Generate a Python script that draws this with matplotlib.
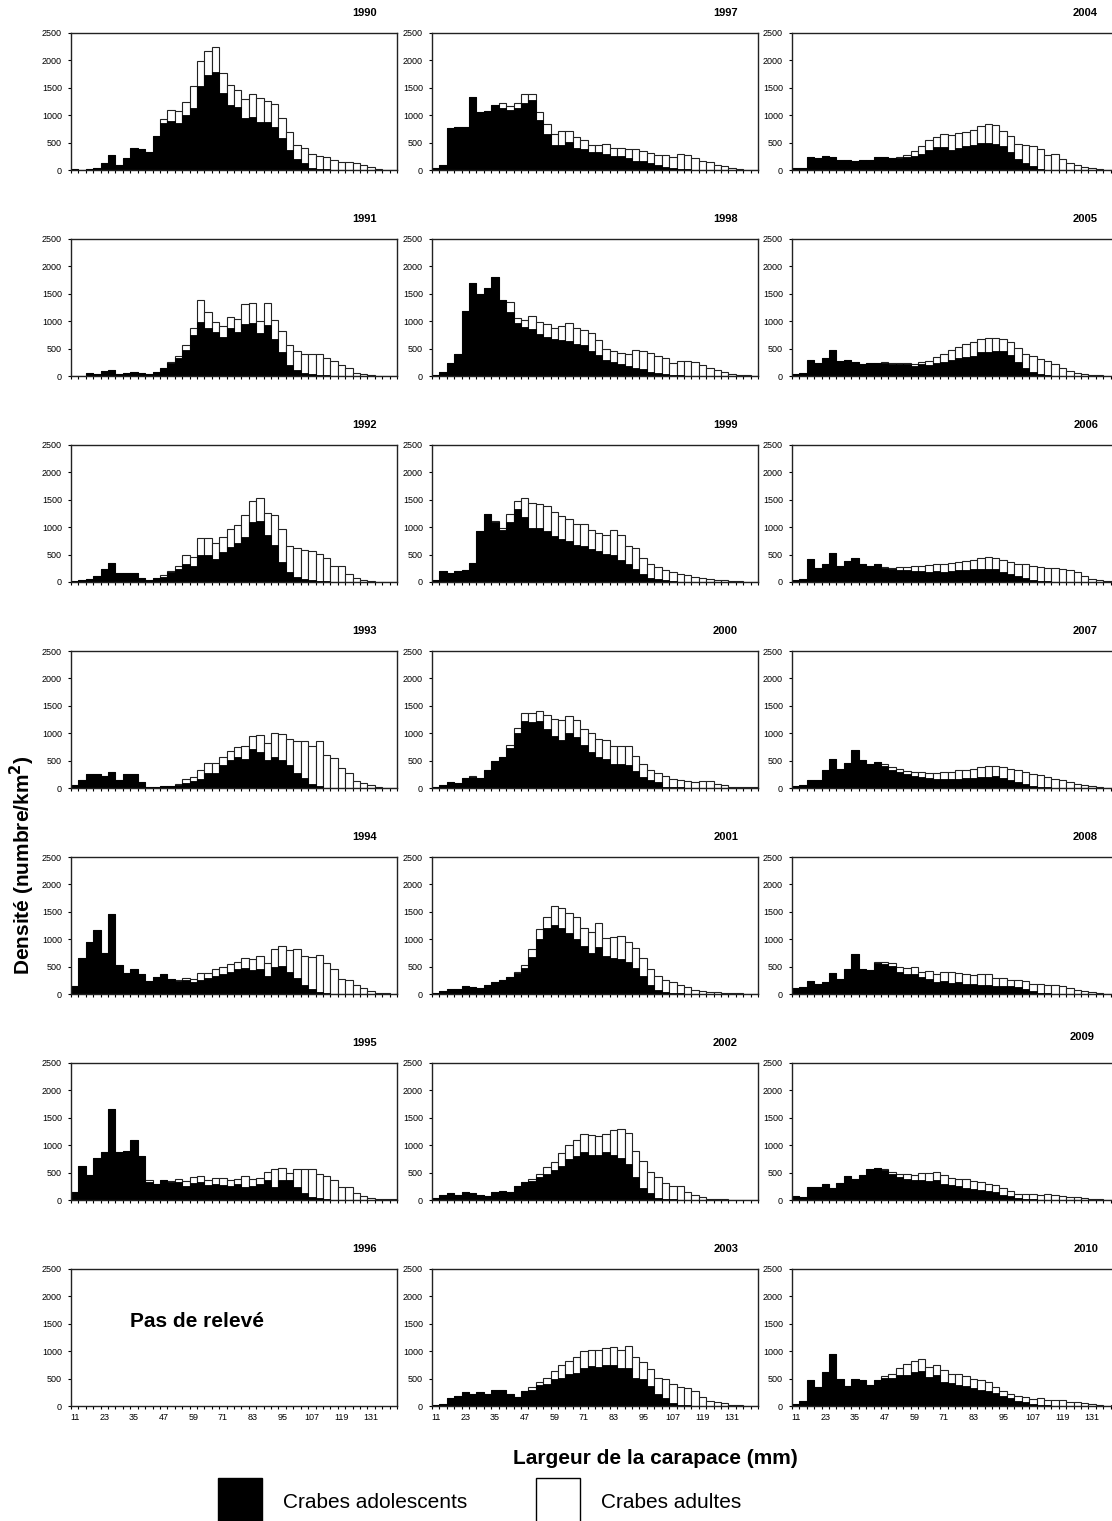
import matplotlib
matplotlib.use("Agg")
import matplotlib.pyplot as plt
import numpy as np
from matplotlib.patches import Rectangle

plt.rcParams["font.family"] = ["Liberation Sans", "DejaVu Sans"]

# carapace width classes (mm), 3 mm bins
WIDTHS = list(range(11, 143, 3))
TICK_LABELS = ["11", "23", "35", "47", "59", "71", "83", "95", "107", "119", "131"]

# density (number/km2): adolescents (black) and total height of stacked bar
ADO_1990 = [15, 0, 25, 40, 130, 270, 90, 220, 410, 380, 320, 620, 850, 900, 860, 1010, 1140, 1540, 1730, 1790, 1400, 1180, 1150, 940, 970, 870, 870, 790, 590, 360, 200, 130, 30, 20, 10, 5, 0, 0, 0, 0, 0, 0, 0, 0]
TOT_1990 = [15, 0, 25, 40, 130, 270, 90, 220, 410, 380, 330, 620, 930, 1090, 1080, 1250, 1540, 1980, 2170, 2240, 1770, 1550, 1460, 1300, 1380, 1310, 1260, 1210, 950, 690, 450, 410, 290, 260, 230, 190, 140, 150, 130, 90, 50, 10, 5, 0]

ADO_1991 = [0, 0, 60, 40, 100, 110, 40, 50, 80, 50, 40, 70, 150, 230, 330, 480, 740, 980, 880, 800, 720, 870, 810, 940, 970, 790, 930, 670, 440, 200, 110, 60, 30, 20, 10, 0, 0, 0, 0, 0, 0, 0, 0, 0]
TOT_1991 = [0, 0, 60, 40, 100, 110, 40, 50, 80, 50, 40, 70, 150, 250, 370, 560, 870, 1380, 1170, 990, 920, 1080, 1040, 1320, 1340, 1000, 1340, 1030, 830, 570, 460, 410, 400, 400, 330, 270, 200, 140, 60, 30, 10, 0, 0, 0]

ADO_1992 = [20, 30, 50, 110, 240, 340, 160, 170, 170, 80, 40, 70, 100, 180, 230, 330, 290, 490, 500, 420, 550, 640, 710, 830, 1100, 1120, 850, 680, 370, 190, 100, 60, 30, 20, 10, 0, 0, 0, 0, 0, 0, 0, 0, 0]
TOT_1992 = [20, 30, 50, 110, 240, 340, 160, 170, 170, 80, 40, 70, 120, 200, 300, 490, 460, 800, 810, 720, 830, 960, 1040, 1230, 1480, 1540, 1260, 1220, 960, 660, 620, 590, 560, 510, 440, 300, 300, 150, 80, 30, 10, 0, 0, 0]

ADO_1993 = [50, 150, 260, 250, 220, 290, 140, 260, 260, 110, 10, 10, 30, 30, 50, 90, 120, 170, 270, 280, 420, 510, 560, 530, 720, 660, 510, 570, 520, 420, 280, 190, 70, 30, 0, 0, 0, 0, 0, 0, 0, 0, 0, 0]
TOT_1993 = [50, 150, 260, 250, 220, 290, 140, 260, 260, 110, 10, 10, 30, 40, 80, 170, 200, 330, 450, 460, 560, 680, 740, 770, 950, 970, 830, 1000, 990, 900, 860, 860, 770, 850, 610, 540, 360, 270, 130, 90, 60, 10, 0, 0]

ADO_1994 = [150, 650, 950, 1170, 750, 1460, 530, 380, 460, 360, 230, 310, 360, 270, 240, 250, 210, 260, 290, 320, 370, 410, 450, 470, 440, 450, 320, 490, 510, 410, 300, 170, 100, 30, 10, 0, 0, 0, 0, 0, 0, 0, 0, 0]
TOT_1994 = [150, 650, 950, 1170, 750, 1460, 530, 380, 460, 360, 230, 310, 370, 270, 260, 300, 280, 380, 390, 460, 490, 550, 590, 650, 640, 690, 560, 830, 870, 800, 830, 690, 680, 720, 570, 450, 270, 260, 160, 110, 60, 20, 10, 0]

ADO_1995 = [140, 620, 450, 770, 880, 1660, 870, 890, 1100, 800, 330, 290, 370, 320, 330, 260, 310, 330, 280, 290, 270, 250, 300, 240, 260, 300, 370, 230, 370, 370, 230, 120, 60, 30, 10, 0, 0, 0, 0, 0, 0, 0, 0, 0]
TOT_1995 = [140, 620, 450, 770, 880, 1660, 870, 890, 1100, 800, 370, 290, 370, 340, 380, 340, 420, 430, 360, 410, 400, 360, 390, 430, 380, 410, 510, 560, 580, 500, 560, 570, 560, 480, 440, 360, 230, 230, 130, 80, 30, 10, 10, 10]

ADO_1997 = [30, 100, 770, 780, 790, 1340, 1050, 1070, 1180, 1140, 1090, 1130, 1220, 1270, 910, 660, 460, 460, 510, 400, 390, 320, 320, 300, 250, 250, 220, 170, 170, 120, 100, 50, 30, 20, 10, 0, 0, 0, 0, 0, 0, 0, 0, 0]
TOT_1997 = [30, 100, 770, 780, 790, 1340, 1050, 1070, 1190, 1220, 1170, 1230, 1380, 1390, 1050, 840, 650, 710, 720, 600, 540, 450, 450, 470, 400, 410, 390, 390, 340, 310, 280, 270, 240, 290, 280, 210, 170, 150, 100, 70, 30, 10, 0, 0]

ADO_1998 = [20, 80, 240, 400, 1180, 1700, 1500, 1610, 1810, 1390, 1170, 960, 900, 850, 760, 720, 670, 660, 640, 590, 560, 460, 380, 300, 250, 220, 180, 150, 120, 80, 50, 30, 10, 10, 0, 0, 0, 0, 0, 0, 0, 0, 0, 0]
TOT_1998 = [20, 80, 240, 400, 1180, 1700, 1500, 1610, 1810, 1390, 1350, 1060, 1020, 1100, 990, 940, 880, 920, 960, 880, 840, 780, 660, 490, 460, 420, 400, 480, 450, 420, 360, 320, 230, 270, 280, 250, 200, 150, 110, 70, 40, 20, 10, 0]

ADO_1999 = [30, 200, 160, 200, 210, 340, 930, 1250, 1100, 940, 1100, 1330, 1180, 980, 980, 930, 840, 780, 740, 680, 660, 600, 570, 520, 500, 400, 320, 230, 140, 80, 50, 30, 10, 0, 0, 0, 0, 0, 0, 0, 0, 0, 0, 0]
TOT_1999 = [30, 200, 160, 200, 210, 340, 930, 1250, 1110, 980, 1240, 1480, 1540, 1440, 1420, 1380, 1280, 1200, 1150, 1060, 1060, 950, 900, 860, 940, 860, 650, 620, 440, 330, 270, 220, 180, 140, 120, 90, 70, 50, 40, 30, 20, 10, 0, 0]

ADO_2000 = [20, 60, 110, 90, 190, 200, 180, 330, 490, 570, 730, 1000, 1230, 1210, 1220, 1070, 940, 880, 1000, 930, 780, 650, 570, 530, 430, 430, 420, 310, 200, 140, 110, 20, 10, 10, 0, 0, 0, 0, 0, 0, 0, 0, 0, 0]
TOT_2000 = [20, 60, 110, 90, 190, 210, 180, 330, 490, 570, 790, 1090, 1370, 1370, 1400, 1340, 1260, 1240, 1320, 1250, 1080, 1010, 890, 870, 770, 770, 770, 590, 440, 330, 270, 210, 160, 150, 130, 110, 120, 120, 80, 50, 20, 10, 10, 10]

ADO_2001 = [20, 50, 100, 100, 140, 130, 110, 160, 210, 260, 310, 390, 480, 680, 1010, 1200, 1260, 1200, 1110, 1000, 870, 740, 850, 690, 650, 640, 580, 470, 330, 170, 80, 40, 20, 10, 0, 0, 0, 0, 0, 0, 0, 0, 0, 0]
TOT_2001 = [20, 50, 100, 100, 140, 130, 110, 160, 210, 260, 310, 400, 530, 820, 1190, 1410, 1600, 1570, 1470, 1410, 1210, 1140, 1290, 1020, 1040, 1050, 950, 840, 660, 450, 330, 260, 220, 160, 120, 80, 60, 40, 30, 20, 10, 10, 0, 0]

ADO_2002 = [30, 100, 120, 90, 140, 130, 100, 80, 150, 160, 150, 250, 320, 350, 420, 480, 550, 620, 740, 800, 880, 820, 830, 870, 830, 770, 660, 420, 220, 130, 40, 20, 10, 0, 0, 0, 0, 0, 0, 0, 0, 0, 0, 0]
TOT_2002 = [30, 100, 120, 90, 140, 130, 100, 80, 150, 160, 150, 250, 320, 380, 480, 600, 700, 850, 1010, 1090, 1200, 1180, 1170, 1200, 1270, 1290, 1230, 890, 710, 520, 420, 310, 250, 250, 150, 100, 50, 20, 10, 10, 0, 0, 0, 0]

ADO_2003 = [20, 40, 140, 190, 250, 210, 260, 210, 290, 300, 220, 170, 280, 300, 380, 410, 490, 510, 580, 610, 700, 730, 710, 740, 750, 700, 700, 520, 490, 360, 220, 140, 60, 20, 10, 0, 0, 0, 0, 0, 0, 0, 0, 0]
TOT_2003 = [20, 40, 140, 190, 250, 210, 260, 210, 290, 300, 220, 170, 280, 350, 440, 510, 640, 750, 830, 890, 1000, 1030, 1030, 1060, 1080, 1030, 1100, 900, 800, 680, 510, 500, 410, 350, 330, 280, 160, 100, 70, 50, 10, 10, 5, 5]

ADO_2004 = [30, 40, 230, 220, 250, 230, 180, 190, 160, 180, 190, 230, 230, 210, 210, 230, 250, 300, 360, 420, 420, 370, 400, 430, 450, 490, 500, 480, 430, 330, 200, 120, 70, 20, 0, 0, 0, 0, 0, 0, 0, 0, 0, 0]
TOT_2004 = [30, 40, 230, 220, 250, 230, 180, 190, 160, 180, 190, 230, 230, 210, 240, 270, 340, 430, 540, 600, 660, 630, 680, 690, 730, 800, 840, 820, 710, 620, 470, 450, 430, 390, 270, 290, 200, 120, 90, 60, 40, 10, 0, 0]

ADO_2005 = [30, 50, 300, 230, 330, 470, 280, 290, 260, 210, 230, 230, 240, 220, 210, 210, 190, 210, 200, 240, 260, 300, 330, 350, 370, 430, 440, 460, 450, 390, 260, 150, 80, 30, 10, 0, 0, 0, 0, 0, 0, 0, 0, 0]
TOT_2005 = [30, 50, 300, 230, 330, 470, 280, 290, 260, 210, 230, 240, 250, 240, 240, 240, 220, 260, 280, 340, 410, 480, 530, 590, 620, 680, 700, 700, 680, 620, 520, 410, 360, 310, 280, 220, 150, 100, 60, 40, 20, 10, 0, 0]

ADO_2006 = [30, 60, 420, 250, 330, 530, 300, 380, 430, 320, 300, 320, 260, 230, 220, 210, 200, 200, 190, 200, 190, 200, 210, 220, 230, 240, 230, 230, 180, 150, 110, 70, 40, 20, 10, 0, 0, 0, 0, 0, 0, 0, 0, 0]
TOT_2006 = [30, 60, 420, 250, 330, 530, 300, 380, 430, 320, 300, 320, 270, 260, 270, 280, 290, 300, 310, 330, 330, 340, 360, 390, 410, 440, 460, 430, 400, 360, 330, 320, 300, 280, 260, 250, 240, 220, 190, 110, 60, 30, 20, 10]

ADO_2007 = [30, 50, 140, 140, 330, 530, 340, 450, 700, 520, 440, 470, 400, 330, 290, 250, 220, 200, 180, 170, 170, 170, 160, 180, 180, 200, 200, 210, 190, 150, 110, 70, 40, 20, 10, 0, 0, 0, 0, 0, 0, 0, 0, 0]
TOT_2007 = [30, 50, 140, 140, 330, 530, 340, 450, 700, 520, 440, 480, 430, 380, 340, 310, 290, 290, 270, 270, 290, 300, 320, 330, 350, 380, 410, 410, 390, 350, 320, 290, 260, 230, 200, 170, 140, 110, 80, 50, 30, 10, 0, 0]

ADO_2008 = [110, 130, 230, 190, 220, 380, 270, 460, 730, 460, 430, 560, 550, 520, 400, 360, 370, 310, 280, 220, 230, 200, 210, 190, 180, 170, 170, 140, 150, 150, 120, 90, 50, 20, 10, 0, 0, 0, 0, 0, 0, 0, 0, 0]
TOT_2008 = [110, 130, 230, 190, 220, 380, 270, 460, 730, 460, 430, 580, 580, 570, 490, 470, 490, 400, 420, 360, 410, 400, 390, 360, 350, 360, 360, 290, 300, 260, 250, 230, 190, 180, 170, 160, 150, 110, 70, 60, 30, 10, 0, 0]

ADO_2009 = [80, 60, 240, 240, 290, 220, 310, 440, 380, 450, 570, 590, 540, 480, 420, 380, 370, 370, 340, 360, 300, 270, 260, 220, 200, 180, 170, 150, 100, 70, 30, 20, 10, 0, 0, 0, 0, 0, 0, 0, 0, 0, 0, 0]
TOT_2009 = [80, 60, 240, 240, 290, 220, 310, 440, 380, 450, 570, 590, 560, 520, 480, 480, 460, 490, 490, 520, 460, 400, 390, 380, 340, 330, 300, 270, 210, 160, 110, 110, 110, 100, 110, 100, 70, 60, 50, 30, 20, 10, 0, 0]

ADO_2010 = [40, 100, 470, 350, 620, 950, 490, 360, 490, 470, 390, 470, 520, 510, 570, 570, 620, 630, 530, 570, 440, 420, 390, 370, 320, 300, 280, 230, 190, 140, 100, 70, 30, 20, 10, 0, 0, 0, 0, 0, 0, 0, 0, 0]
TOT_2010 = [40, 100, 470, 350, 620, 950, 490, 360, 490, 470, 390, 470, 550, 590, 690, 760, 830, 850, 710, 740, 650, 580, 580, 550, 500, 470, 440, 350, 280, 220, 190, 160, 130, 150, 110, 110, 110, 70, 70, 60, 40, 20, 0, 10]

PANELS = [
    ["1990", "1991", "1992", "1993", "1994", "1995", "1996"],
    ["1997", "1998", "1999", "2000", "2001", "2002", "2003"],
    ["2004", "2005", "2006", "2007", "2008", "2009", "2010"],
]
SERIES = {name[4:]: (globals()["ADO_" + name[4:]], val)
          for name, val in list(globals().items()) if name.startswith("TOT_")}

W, H = 1112, 1521
COL_LEFT = [71, 432, 792]
AX_W = 326
ROW_TOP0 = 33
ROW_STEP = 206
AX_H = 137
# the 2009 title sits a little off in the original
YEAR_SHIFT = {"2009": (-4, -6)}


def px_axes(fig, left, top, w, h):
    return fig.add_axes([left / W, 1 - (top + h) / H, w / W, h / H])


fig = plt.figure(figsize=(W / 100, H / 100), dpi=100)
x = np.arange(len(WIDTHS))

for c, col in enumerate(PANELS):
    for r, year in enumerate(col):
        top = ROW_TOP0 + r * ROW_STEP
        ax = px_axes(fig, COL_LEFT[c], top, AX_W, AX_H)
        if year in SERIES:
            ado, tot = SERIES[year]
            ax.bar(x, tot, width=1.0, color="white", edgecolor="#222222", lw=0.8)
            ax.bar(x, ado, width=1.0, color="black", edgecolor="black", lw=0.6)
        else:
            ax.text(0.18, 0.62, "Pas de relevé", transform=ax.transAxes,
                    fontsize=15, fontweight="bold", va="center", ha="left")
        ax.set_xlim(-0.5, len(WIDTHS) - 0.5)
        ax.set_ylim(0, 2500)
        ax.set_yticks(range(0, 2501, 500))
        ax.tick_params(axis="y", labelsize=6.5, length=2.5, width=0.8, pad=4)
        ax.set_xticks(np.arange(-0.5, len(WIDTHS), 1.0))
        ax.set_xticklabels([])
        ax.tick_params(axis="x", which="major", length=2.5, width=0.8)
        if r == len(col) - 1:
            ax.set_xticks(x[::4], minor=True)
            ax.set_xticklabels(TICK_LABELS, minor=True)
            ax.tick_params(axis="x", which="minor", length=0, labelsize=6.5, pad=5)
        for sp in ax.spines.values():
            sp.set_linewidth(1.0)
            sp.set_color("#222222")
        dx, dy = YEAR_SHIFT.get(year, (0, 0))
        fig.text((COL_LEFT[c] + AX_W - 20 + dx) / W, 1 - (top - 20 + dy) / H, year,
                 ha="right", va="center", fontsize=8, fontweight="bold")

fig.text(22 / W, 1 - 865 / H, "Densité (numbre/km$^\\mathbf{2}$)", rotation=90,
         ha="center", va="center", fontsize=15, fontweight="bold")
fig.text(655 / W, 1 - 1458 / H, "Largeur de la carapace (mm)",
         ha="center", va="center", fontsize=15, fontweight="bold")

# legend
fig.patches.append(Rectangle((218 / W, 1 - 1522 / H), 44 / W, 44 / H,
                             transform=fig.transFigure, facecolor="black",
                             edgecolor="black", lw=1))
fig.patches.append(Rectangle((536 / W, 1 - 1522 / H), 44 / W, 44 / H,
                             transform=fig.transFigure, facecolor="white",
                             edgecolor="black", lw=1))
fig.text(283 / W, 1 - 1503 / H, "Crabes adolescents", ha="left", va="center", fontsize=15)
fig.text(601 / W, 1 - 1503 / H, "Crabes adultes", ha="left", va="center", fontsize=15)

fig.savefig("out.png", dpi=100)
